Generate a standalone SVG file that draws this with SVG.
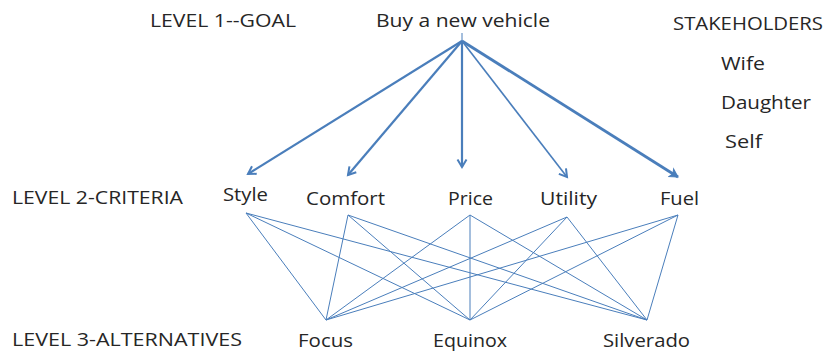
<svg xmlns="http://www.w3.org/2000/svg" width="828" height="351" viewBox="0 0 828 351">
  <style>
    text { font-family: "Open Sans", "Noto Sans", "Liberation Sans", sans-serif; font-size: 18px; fill: #262626; }
    .arrow { stroke: #4a7ebb; stroke-width: 2.2; fill: none; marker-end: url(#vhead); }
    .link { stroke: #4a7ebb; stroke-width: 1; fill: none; }
  </style>
  <defs>
    <marker id="vhead" markerUnits="userSpaceOnUse" markerWidth="16" markerHeight="16" refX="9" refY="8" orient="auto">
      <path d="M1.5,3.5 L9,8 L1.5,12.5" fill="none" stroke="#4a7ebb" stroke-width="2" stroke-linejoin="miter"/>
    </marker>
    <marker id="solidhead" markerUnits="userSpaceOnUse" markerWidth="16" markerHeight="16" refX="9" refY="8" orient="auto">
      <path d="M1,3.5 L9,8 L1,12.5 L3,8 Z" fill="#4a7ebb" stroke="#4a7ebb" stroke-width="1"/>
    </marker>
  </defs>

  <!-- level labels -->
  <g id="level1"><text x="150" y="27" textLength="146" lengthAdjust="spacingAndGlyphs">LEVEL 1--GOAL</text></g>
  <g id="level2"><text x="12" y="204" textLength="171" lengthAdjust="spacingAndGlyphs">LEVEL 2-CRITERIA</text></g>
  <g id="level3"><text x="12" y="346" textLength="230" lengthAdjust="spacingAndGlyphs">LEVEL 3-ALTERNATIVES</text></g>

  <!-- stakeholders -->
  <g id="stakeholders">
    <text x="673" y="30" textLength="150" lengthAdjust="spacingAndGlyphs">STAKEHOLDERS</text>
    <text x="721" y="70" textLength="44" lengthAdjust="spacingAndGlyphs">Wife</text>
    <text x="721" y="109" textLength="90" lengthAdjust="spacingAndGlyphs">Daughter</text>
    <text x="725" y="148" textLength="37" lengthAdjust="spacingAndGlyphs">Self</text>
  </g>

  <!-- goal -->
  <g id="goal"><text x="376" y="27" textLength="174" lengthAdjust="spacingAndGlyphs">Buy a new vehicle</text></g>

  <!-- criteria -->
  <g id="style"><text x="223" y="201" textLength="45" lengthAdjust="spacingAndGlyphs">Style</text></g>
  <g id="comfort"><text x="306" y="205" textLength="79" lengthAdjust="spacingAndGlyphs">Comfort</text></g>
  <g id="price"><text x="448" y="205" textLength="45" lengthAdjust="spacingAndGlyphs">Price</text></g>
  <g id="utility"><text x="540" y="205" textLength="57" lengthAdjust="spacingAndGlyphs">Utility</text></g>
  <g id="fuel"><text x="660" y="205" textLength="39" lengthAdjust="spacingAndGlyphs">Fuel</text></g>

  <!-- alternatives -->
  <g id="focus"><text x="298" y="347" textLength="55" lengthAdjust="spacingAndGlyphs">Focus</text></g>
  <g id="equinox"><text x="433" y="347" textLength="74" lengthAdjust="spacingAndGlyphs">Equinox</text></g>
  <g id="silverado"><text x="603" y="347" textLength="87" lengthAdjust="spacingAndGlyphs">Silverado</text></g>

  <!-- connectors -->
  <g id="connectors">
    <line x1="462" y1="33" x2="462" y2="41" class="link" stroke-width="2"/>
    <line x1="462" y1="41" x2="248" y2="174" class="arrow"/>
    <line x1="462" y1="41" x2="348" y2="175" class="arrow"/>
    <line x1="462" y1="41" x2="462" y2="167" class="arrow"/>
    <line x1="462" y1="41" x2="567" y2="177" class="arrow" style="stroke-width:1.6"/>
    <line x1="462" y1="41" x2="678" y2="177" class="arrow" style="stroke-width:2.8;marker-end:url(#solidhead)"/>

    <line x1="246" y1="213" x2="326" y2="320" class="link"/>
    <line x1="246" y1="213" x2="470" y2="320" class="link"/>
    <line x1="246" y1="213" x2="647" y2="320" class="link"/>
    <line x1="348" y1="215" x2="326" y2="320" class="link"/>
    <line x1="348" y1="215" x2="470" y2="320" class="link"/>
    <line x1="348" y1="215" x2="647" y2="320" class="link"/>
    <line x1="470" y1="215" x2="326" y2="320" class="link"/>
    <line x1="470" y1="215" x2="470" y2="320" class="link"/>
    <line x1="470" y1="215" x2="647" y2="320" class="link"/>
    <line x1="567" y1="217" x2="326" y2="320" class="link"/>
    <line x1="567" y1="217" x2="470" y2="320" class="link"/>
    <line x1="567" y1="217" x2="647" y2="320" class="link"/>
    <line x1="678" y1="215" x2="326" y2="320" class="link"/>
    <line x1="678" y1="215" x2="470" y2="320" class="link"/>
    <line x1="678" y1="215" x2="647" y2="320" class="link"/>
  </g>
</svg>
